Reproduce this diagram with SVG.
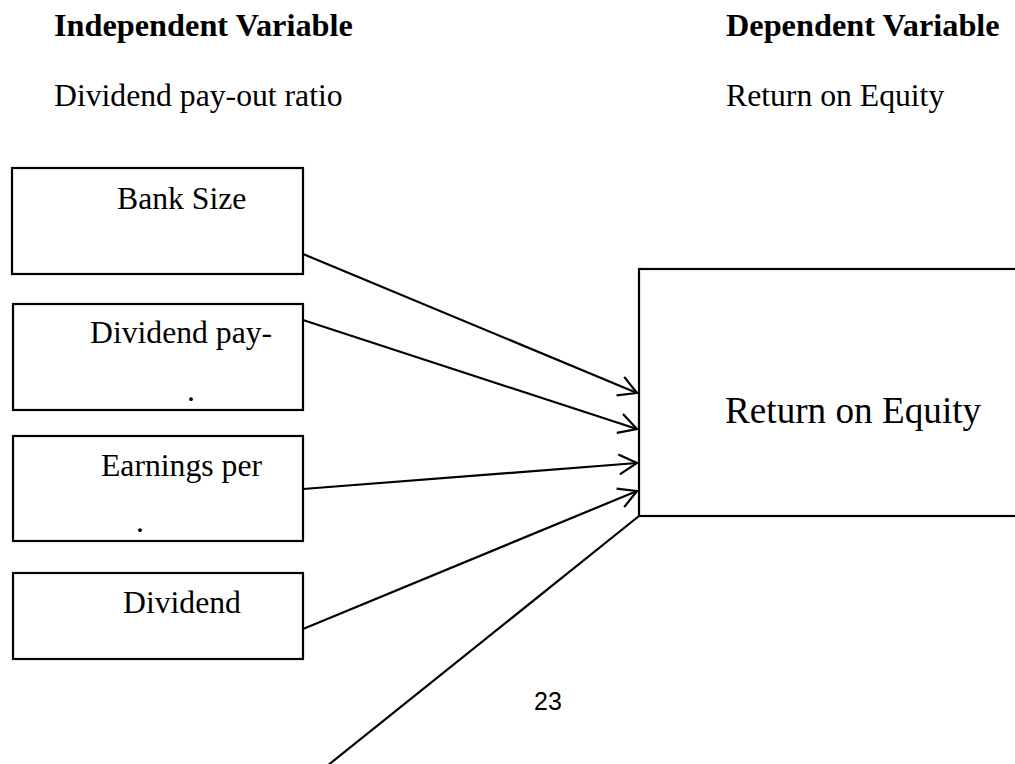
<svg xmlns="http://www.w3.org/2000/svg" width="1015" height="764" viewBox="0 0 1015 764">
<style>
.t{font-family:"Liberation Serif","Times New Roman",serif;font-size:31.7px;fill:#000}
.b{font-weight:bold;font-size:32.3px}
.box{fill:#fff;stroke:#000;stroke-width:2.2}
.conn{stroke:#000;stroke-width:2.2;fill:none}
.pg{font-family:"Liberation Sans",Arial,sans-serif;font-size:25px;fill:#000}
</style>
<defs>
<marker id="arr" markerUnits="userSpaceOnUse" viewBox="-25 -15 30 30" refX="0" refY="0" markerWidth="30" markerHeight="30" orient="auto" overflow="visible">
<path d="M-18,-10 L0,0 L-18,10" fill="none" stroke="#000" stroke-width="2.2" stroke-linejoin="miter"/>
</marker>
</defs>
<rect width="1015" height="764" fill="#fff"/>
<g id="headings">
<text class="t b" x="54" y="36">Independent Variable</text>
<text class="t" x="54" y="106">Dividend pay-out ratio</text>
<text class="t b" x="726" y="36">Dependent Variable</text>
<text class="t" x="726" y="106">Return on Equity</text>
</g>
<g id="node-bank-size">
<rect class="box" x="12" y="168" width="291" height="106"/>
<text class="t" x="117" y="209">Bank Size</text>
</g>
<g id="node-dividend-payout">
<rect class="box" x="13" y="304" width="290" height="106"/>
<text class="t" x="90" y="343">Dividend pay-</text>
<text class="t" x="187" y="401">.</text>
</g>
<g id="node-eps">
<rect class="box" x="13" y="436" width="290" height="105"/>
<text class="t" x="101" y="476">Earnings per</text>
<text class="t" x="136" y="532">.</text>
</g>
<g id="node-dividend">
<rect class="box" x="13" y="573" width="290" height="86"/>
<text class="t" x="123" y="613">Dividend</text>
</g>
<g id="node-roe">
<rect class="box" x="639" y="269" width="400" height="247"/>
<text class="t" x="725" y="423" style="font-size:37.2px">Return on Equity</text>
</g>
<g id="connectors">
<line class="conn" x1="303" y1="254" x2="637" y2="393" marker-end="url(#arr)"/>
<line class="conn" x1="303" y1="320" x2="637" y2="429" marker-end="url(#arr)"/>
<line class="conn" x1="303" y1="489" x2="637" y2="463" marker-end="url(#arr)"/>
<line class="conn" x1="303" y1="629" x2="637" y2="491" marker-end="url(#arr)"/>
<line class="conn" x1="639" y1="516" x2="327" y2="766"/>
</g>
<text class="pg" x="534" y="710">23</text>
</svg>
